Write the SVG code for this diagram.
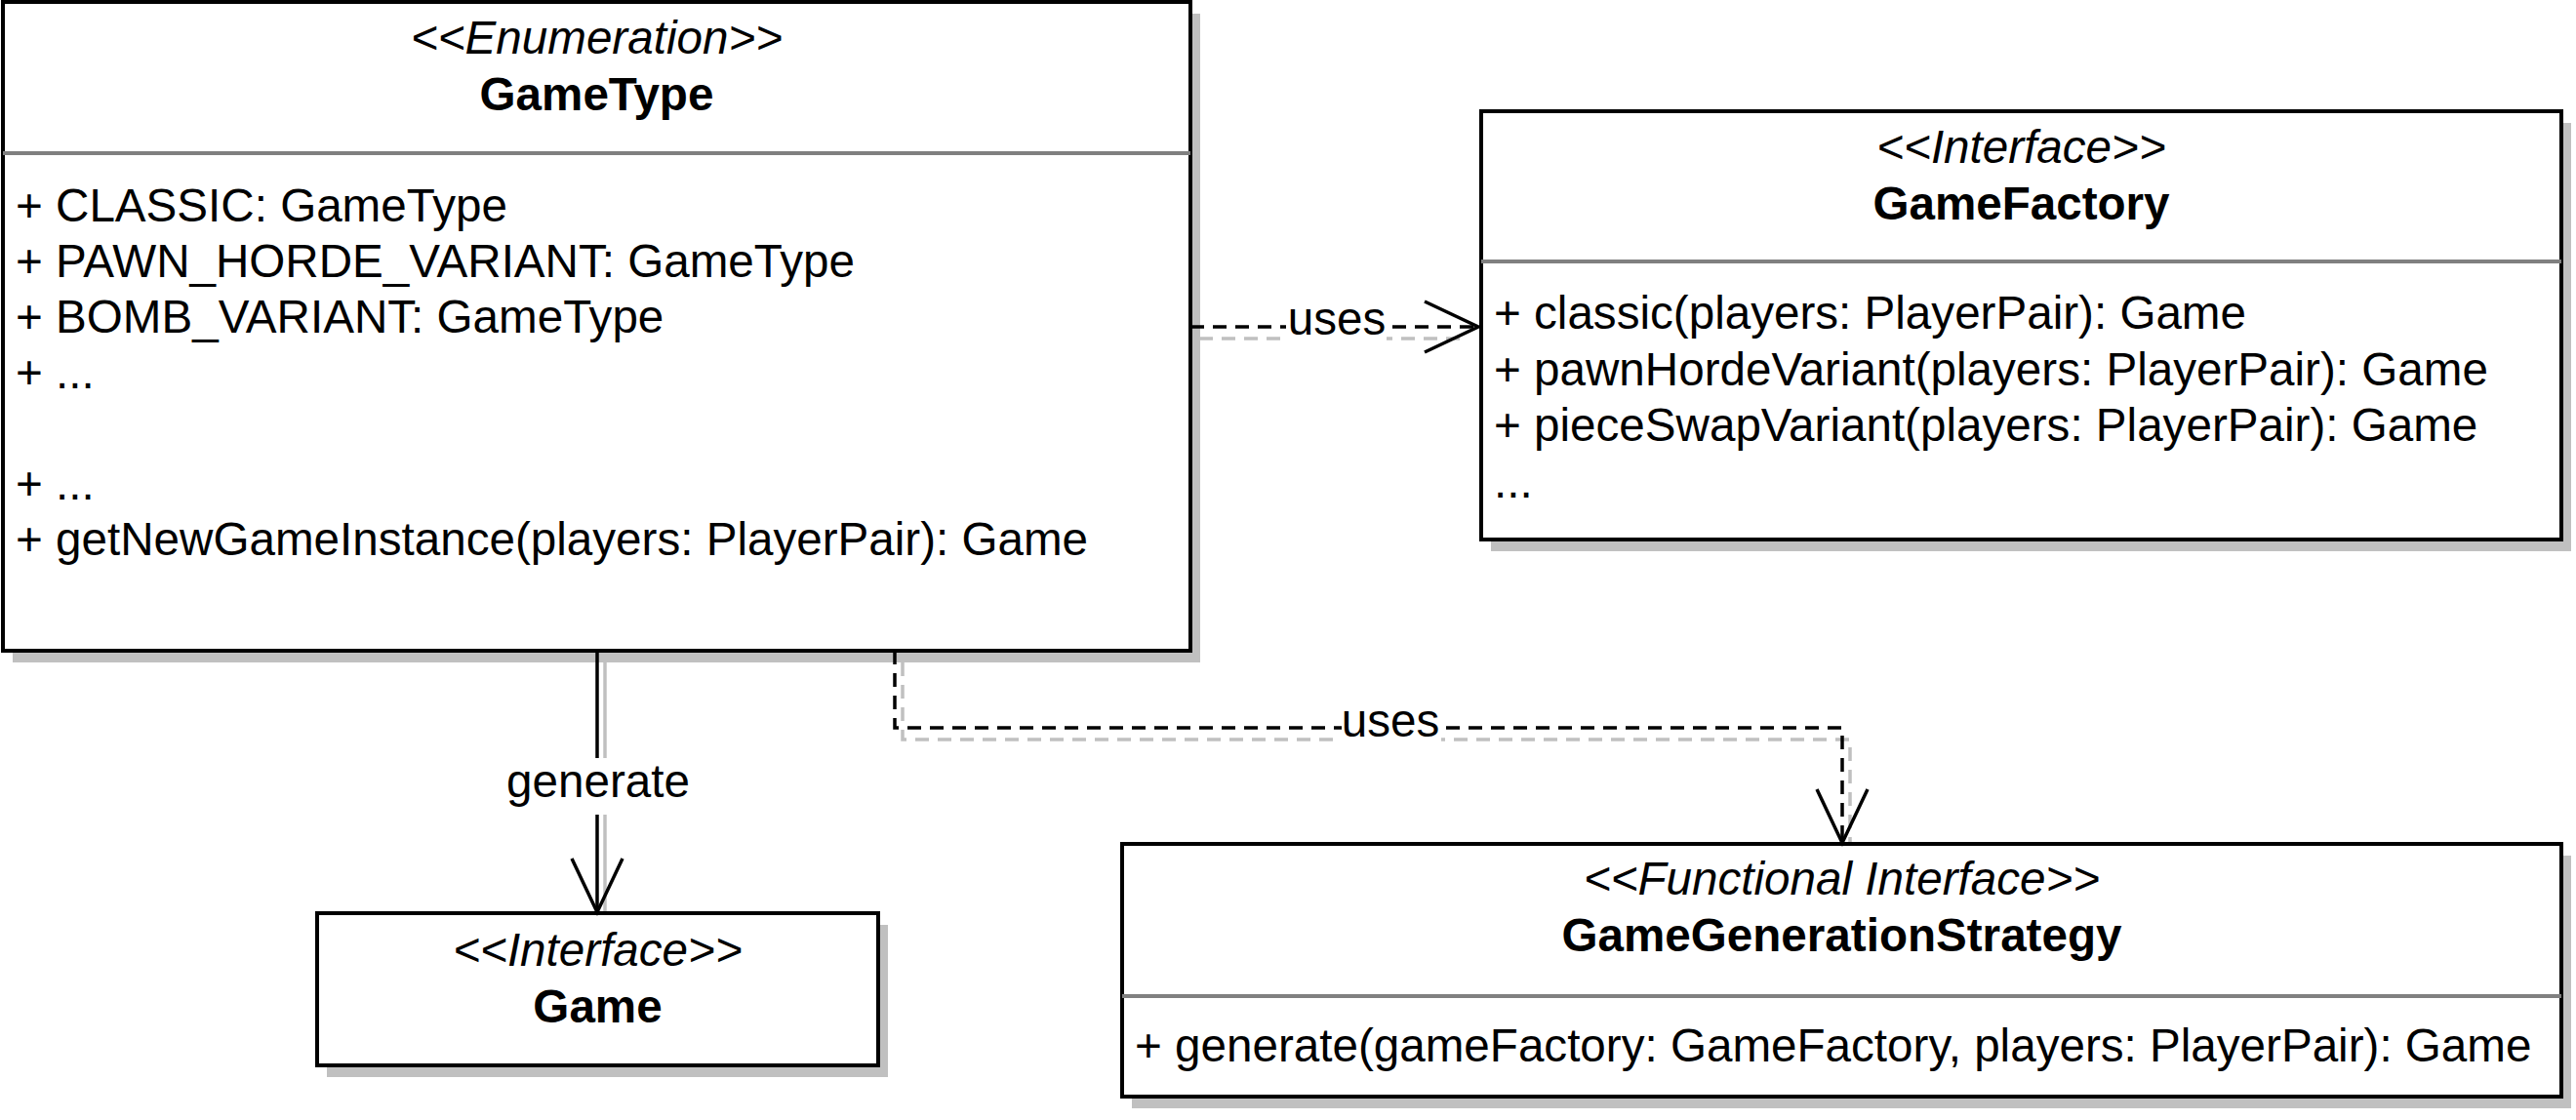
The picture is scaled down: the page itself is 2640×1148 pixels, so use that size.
<svg xmlns="http://www.w3.org/2000/svg" width="2640" height="1148" viewBox="0 0 2640 1148">
<style>
.bg{fill:#fff}
.box{fill:#fff;stroke:#000;stroke-width:4}
.shadow{fill:#c0c0c0}
.div{stroke:#808080;stroke-width:4}
.t{font-family:"Liberation Sans",Arial,Helvetica,sans-serif;font-size:47.6px;fill:#000}
.st{font-style:italic;text-anchor:middle}
.nm{font-weight:bold;text-anchor:middle}
.mid{text-anchor:middle}
.edge{fill:none;stroke:#000;stroke-width:3.5}
.dash{stroke-dasharray:14 9}
.es{fill:none;stroke:#c0c0c0;stroke-width:3.5}
.lbl{fill:#fff}
</style>
<defs>
<marker id="open" markerUnits="userSpaceOnUse" markerWidth="64" markerHeight="64" viewBox="0 0 64 64" refX="58" refY="32" orient="auto">
<path d="M3,6 L58,32 L3,58" fill="none" stroke="#000" stroke-width="3.5" stroke-dasharray="none"/>
</marker>
</defs>
<rect class="bg" x="0" y="0" width="2640" height="1148"/>

<g id="connector-shadows">
<path class="es" d="M620,679 V936"/>
<path class="es dash" d="M1229,347 H1505"/>
<path class="es dash" d="M925,679 V758 H1896 V864"/>
</g>

<g id="GameType">
<rect class="shadow" x="13" y="14" width="1217" height="665"/>
<rect class="box" x="3" y="2" width="1217" height="665"/>
<line class="div" x1="3" y1="157" x2="1220" y2="157"/>
<text class="t st" x="611.5" y="55">&lt;&lt;Enumeration&gt;&gt;</text>
<text class="t nm" x="611.5" y="113">GameType</text>
<text class="t" x="16" y="227">+ CLASSIC: GameType</text>
<text class="t" x="16" y="284">+ PAWN_HORDE_VARIANT: GameType</text>
<text class="t" x="16" y="341">+ BOMB_VARIANT: GameType</text>
<text class="t" x="16" y="398">+ ...</text>
<text class="t" x="16" y="512">+ ...</text>
<text class="t" x="16" y="569">+ getNewGameInstance(players: PlayerPair): Game</text>
</g>

<g id="GameFactory">
<rect class="shadow" x="1528" y="126" width="1107" height="439"/>
<rect class="box" x="1518" y="114" width="1107" height="439"/>
<line class="div" x1="1518" y1="268" x2="2625" y2="268"/>
<text class="t st" x="2071.5" y="167">&lt;&lt;Interface&gt;&gt;</text>
<text class="t nm" x="2071.5" y="225">GameFactory</text>
<text class="t" x="1531" y="337">+ classic(players: PlayerPair): Game</text>
<text class="t" x="1531" y="395">+ pawnHordeVariant(players: PlayerPair): Game</text>
<text class="t" x="1531" y="452">+ pieceSwapVariant(players: PlayerPair): Game</text>
<text class="t" x="1531" y="510">...</text>
</g>

<g id="Game">
<rect class="shadow" x="335" y="948" width="575" height="156"/>
<rect class="box" x="325" y="936" width="575" height="156"/>
<text class="t st" x="612.5" y="990">&lt;&lt;Interface&gt;&gt;</text>
<text class="t nm" x="612.5" y="1048">Game</text>
</g>

<g id="GameGenerationStrategy">
<rect class="shadow" x="1160" y="877" width="1475" height="259"/>
<rect class="box" x="1150" y="865" width="1475" height="259"/>
<line class="div" x1="1150" y1="1021" x2="2625" y2="1021"/>
<text class="t st" x="1887.5" y="917">&lt;&lt;Functional Interface&gt;&gt;</text>
<text class="t nm" x="1887.5" y="975">GameGenerationStrategy</text>
<text class="t" x="1163" y="1088">+ generate(gameFactory: GameFactory, players: PlayerPair): Game</text>
</g>

<g id="connectors">
<path class="edge" d="M612,667 V935" marker-end="url(#open)"/>
<rect class="lbl" x="518" y="777" width="190" height="58"/>
<text class="t mid" x="613" y="817">generate</text>

<path class="edge dash" d="M1220,335 H1515" marker-end="url(#open)"/>
<rect class="lbl" x="1318" y="312" width="103" height="40"/>
<text class="t mid" x="1370" y="343">uses</text>

<path class="edge dash" d="M917,667 V746 H1888 V864" marker-end="url(#open)"/>
<rect class="lbl" x="1375" y="726" width="102" height="37"/>
<text class="t mid" x="1425" y="755">uses</text>
</g>
</svg>
